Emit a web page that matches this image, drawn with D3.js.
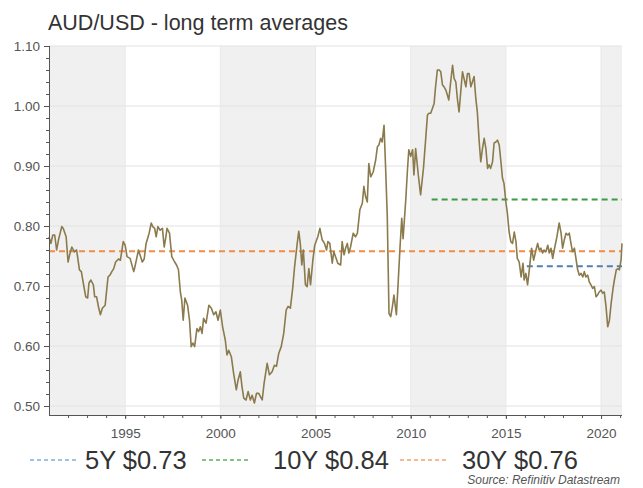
<!DOCTYPE html>
<html>
<head>
<meta charset="utf-8">
<script src="https://cdn.jsdelivr.net/npm/d3@7"></script>
<style>
  html, body { margin: 0; padding: 0; background: #fff; }
  svg { display: block; font-family: "Liberation Sans", Arial, sans-serif; }
</style>
</head>
<body>
<svg id="chart" width="643" height="488"></svg>
<script>
// AUD/USD monthly-ish observations (decimal year, rate)
const dates = [
  1991.00,1991.10,1991.20,1991.30,1991.40,1991.50,1991.67,1991.75,1991.90,
  1992.00,1992.10,1992.20,1992.33,1992.45,1992.60,1992.70,1992.80,1992.93,
  1993.03,1993.10,1993.20,1993.33,1993.40,1993.50,1993.60,1993.70,1993.80,1993.95,
  1994.10,1994.20,1994.30,1994.40,1994.50,1994.65,1994.75,1994.90,
  1995.00,1995.10,1995.26,1995.45,1995.50,1995.70,1995.90,
  1996.00,1996.10,1996.26,1996.37,1996.45,1996.55,1996.63,1996.72,1996.84,1996.96,
  1997.05,1997.14,1997.20,1997.33,1997.45,1997.60,1997.70,1997.80,1997.90,1997.97,
  1998.05,1998.14,1998.28,1998.38,1998.47,1998.56,1998.65,1998.77,1998.86,1998.95,
  1999.04,1999.12,1999.25,1999.40,1999.53,1999.65,1999.77,1999.88,
  2000.00,2000.12,2000.26,2000.35,2000.44,2000.58,2000.70,2000.84,2000.93,
  2001.05,2001.14,2001.23,2001.35,2001.46,2001.58,2001.67,2001.79,2001.90,
  2002.02,2002.10,2002.20,2002.30,2002.46,2002.58,2002.72,2002.84,2002.95,
  2003.07,2003.20,2003.33,2003.46,2003.56,2003.68,2003.80,2003.90,
  2004.04,2004.12,2004.20,2004.28,2004.36,2004.47,2004.56,2004.65,2004.74,2004.86,2004.96,
  2005.12,2005.23,2005.35,2005.47,2005.58,2005.65,2005.75,2005.88,2005.96,
  2006.05,2006.17,2006.32,2006.40,2006.50,2006.58,2006.67,2006.75,2006.84,2006.98,
  2007.10,2007.20,2007.33,2007.46,2007.54,2007.63,2007.72,2007.80,2007.90,
  2008.03,2008.16,2008.25,2008.33,2008.42,2008.50,2008.60,2008.68,2008.77,2008.86,2008.95,
  2009.04,2009.12,2009.25,2009.33,2009.44,2009.53,2009.60,2009.74,2009.82,2009.90,
  2010.00,2010.10,2010.17,2010.26,2010.40,2010.52,2010.67,2010.79,2010.88,2010.96,
  2011.05,2011.14,2011.23,2011.30,2011.40,2011.50,2011.58,2011.67,2011.75,2011.84,2011.93,
  2012.00,2012.10,2012.20,2012.28,2012.37,2012.46,2012.54,2012.63,2012.72,2012.80,2012.90,2012.98,
  2013.07,2013.16,2013.24,2013.33,2013.42,2013.50,2013.60,2013.68,2013.77,2013.86,2013.95,
  2014.04,2014.12,2014.20,2014.30,2014.38,2014.47,2014.56,2014.65,2014.74,2014.82,2014.90,
  2015.00,2015.08,2015.17,2015.26,2015.35,2015.44,2015.53,2015.60,2015.70,2015.80,2015.90,2015.96,
  2016.05,2016.14,2016.23,2016.35,2016.46,2016.58,2016.67,2016.75,2016.84,2016.93,
  2017.00,2017.10,2017.20,2017.28,2017.37,2017.46,2017.54,2017.68,2017.80,2017.90,2017.98,
  2018.07,2018.16,2018.25,2018.33,2018.42,2018.50,2018.60,2018.68,2018.77,2018.86,2018.95,
  2019.04,2019.12,2019.20,2019.30,2019.38,2019.47,2019.56,2019.65,2019.74,2019.82,2019.90,
  2020.00,2020.08,2020.17,2020.26,2020.35,2020.44,2020.53,2020.63,2020.70,2020.80,2020.90,2020.96,
  2021.05,2021.10
];
const rates = [
  0.782,0.771,0.785,0.785,0.760,0.777,0.799,0.796,0.782,
  0.740,0.754,0.765,0.757,0.760,0.727,0.724,0.705,0.682,
  0.680,0.705,0.710,0.702,0.682,0.682,0.665,0.652,0.663,0.668,
  0.715,0.718,0.724,0.729,0.740,0.745,0.743,0.774,
  0.768,0.749,0.746,0.724,0.730,0.760,0.740,
  0.745,0.771,0.788,0.805,0.799,0.796,0.782,0.799,0.793,0.796,
  0.765,0.782,0.796,0.788,0.749,0.740,0.735,0.727,0.690,0.677,
  0.643,0.680,0.668,0.643,0.599,0.605,0.599,0.629,0.624,0.632,
  0.621,0.646,0.638,0.668,0.663,0.652,0.657,0.643,
  0.660,0.632,0.610,0.585,0.593,0.582,0.554,0.527,0.543,
  0.557,0.532,0.513,0.510,0.524,0.510,0.518,0.505,0.521,
  0.521,0.516,0.510,0.538,0.571,0.552,0.557,0.568,0.566,
  0.588,0.599,0.621,0.660,0.666,0.663,0.696,0.732,
  0.771,0.791,0.771,0.735,0.760,0.702,0.699,0.729,0.702,0.743,0.768,
  0.782,0.796,0.777,0.771,0.760,0.774,0.771,0.738,0.757,
  0.749,0.738,0.735,0.774,0.752,0.763,0.771,0.755,0.765,0.788,
  0.782,0.788,0.827,0.838,0.866,0.849,0.840,0.904,0.882,
  0.890,0.910,0.932,0.935,0.946,0.940,0.968,0.899,0.816,0.654,0.649,
  0.666,0.685,0.652,0.699,0.765,0.813,0.779,0.843,0.888,0.927,
  0.916,0.927,0.885,0.929,0.885,0.852,0.896,0.946,0.985,0.988,
  0.988,0.996,1.004,1.030,1.060,1.060,1.057,1.035,1.032,1.027,1.018,
  1.010,1.040,1.068,1.046,1.040,1.010,0.990,1.024,1.057,1.046,1.032,1.054,
  1.054,1.032,1.040,1.049,1.013,0.990,0.940,0.907,0.929,0.946,0.929,
  0.896,0.902,0.896,0.907,0.938,0.940,0.943,0.935,0.907,0.880,0.871,
  0.840,0.821,0.790,0.774,0.771,0.790,0.774,0.746,0.740,0.715,0.738,0.710,
  0.721,0.702,0.727,0.763,0.743,0.760,0.771,0.760,0.763,0.755,
  0.760,0.757,0.768,0.755,0.763,0.746,0.760,0.782,0.805,0.788,0.763,
  0.777,0.788,0.785,0.788,0.771,0.757,0.763,0.746,0.727,0.718,0.721,
  0.715,0.724,0.715,0.718,0.707,0.702,0.696,0.699,0.682,0.685,0.690,
  0.693,0.688,0.690,0.666,0.632,0.643,0.671,0.696,0.710,0.727,0.729,0.727,
  0.743,0.771
];

// Long-term averages
const avgLabels = ["5Y $0.73", "10Y $0.84", "30Y $0.76"];
const avgValues = [0.733, 0.844, 0.758];
const avgStarts = [2016.1, 2011.1, 1991.0];
const avgColors = ["#4f7fb3", "#3f9a45", "#f28c46"];
const legendColors = ["#7ab0dc", "#5cb35f", "#f7a26a"];

const yTicks = [0.50, 0.60, 0.70, 0.80, 0.90, 1.00, 1.10];
const xTicks = [1995, 2000, 2005, 2010, 2015, 2020];

const svg = d3.select("#chart");
const plotL = 49, plotR = 622, plotT = 46, plotB = 415;

const x = d3.scaleLinear().domain([1991.0, 2021.1]).range([plotL, plotR]);
const y = d3.scaleLinear().domain([0.485, 1.10]).range([plotB, plotT]);

// Alternating 5-year shaded bands
const bands = [1990, 2000, 2010, 2020];
svg.append("g").selectAll("rect").data(bands).join("rect")
  .attr("x", d => x(Math.max(d, 1991.0)))
  .attr("width", d => x(Math.min(d + 5, 2021.1)) - x(Math.max(d, 1991.0)))
  .attr("y", plotT)
  .attr("height", plotB - plotT)
  .attr("fill", "#f0f0f0");

// Horizontal gridlines
svg.append("g").selectAll("line").data(yTicks).join("line")
  .attr("x1", plotL).attr("x2", plotR)
  .attr("y1", d => y(d)).attr("y2", d => y(d))
  .attr("stroke", "#e2e2e2").attr("stroke-width", 1);

// Vertical gridlines
svg.append("g").selectAll("line").data(xTicks).join("line")
  .attr("x1", d => x(d)).attr("x2", d => x(d))
  .attr("y1", plotT).attr("y2", plotB)
  .attr("stroke", "#e8e8e8").attr("stroke-width", 1);

// Average reference lines
avgValues.forEach((v, i) => {
  svg.append("line")
    .attr("x1", x(avgStarts[i])).attr("x2", x(2021.1))
    .attr("y1", y(v)).attr("y2", y(v))
    .attr("stroke", avgColors[i]).attr("stroke-width", 2)
    .attr("stroke-dasharray", "6,4");
});

// Exchange-rate line
const series = dates.map((d, i) => [d, rates[i]]);
svg.append("path")
  .datum(series)
  .attr("fill", "none")
  .attr("stroke", "#8a7a4c")
  .attr("stroke-width", 1.6)
  .attr("stroke-linejoin", "round")
  .attr("d", d3.line().x(d => x(d[0])).y(d => y(d[1])));

// Axes
const axisColor = "#555";
const yAxis = svg.append("g").attr("transform", `translate(${plotL},0)`)
  .call(d3.axisLeft(y).tickValues(yTicks).tickFormat(d3.format(".2f")).tickSize(5).tickPadding(4));
const yMinor = svg.append("g").attr("transform", `translate(${plotL},0)`)
  .call(d3.axisLeft(y).tickValues(d3.range(0.50, 1.101, 0.02)).tickFormat("").tickSize(3));
yMinor.select(".domain").remove();

const xAxis = svg.append("g").attr("transform", `translate(0,${plotB})`)
  .call(d3.axisBottom(x).tickValues(xTicks).tickFormat(d3.format("d")).tickSize(4).tickPadding(9));
const xMinor = svg.append("g").attr("transform", `translate(0,${plotB})`)
  .call(d3.axisBottom(x).tickValues(d3.range(1992, 2022, 1)).tickFormat("").tickSize(3));
xMinor.select(".domain").remove();

[yAxis, yMinor, xAxis, xMinor].forEach(g => {
  g.selectAll(".domain").attr("stroke", axisColor);
  g.selectAll("line").attr("stroke", axisColor);
  g.selectAll("text").attr("fill", "#555").style("font-size", "13.5px")
    .style("font-family", "'Liberation Sans', Arial, sans-serif");
});
yAxis.select(".domain").attr("d", `M0.5,${plotT}V${plotB}`);
xAxis.select(".domain").attr("d", `M${plotL},0.5H${plotR}`);

// Title
svg.append("text")
  .attr("x", 48).attr("y", 30)
  .attr("fill", "#333")
  .style("font-size", "21.5px")
  .text("AUD/USD - long term averages");

// Legend
const legendLineX = [30, 202, 400];
const legendTextX = [85, 273, 462];
const legendY = 460;
avgLabels.forEach((lab, i) => {
  svg.append("line")
    .attr("x1", legendLineX[i]).attr("x2", legendLineX[i] + 46)
    .attr("y1", legendY).attr("y2", legendY)
    .attr("stroke", legendColors[i]).attr("stroke-width", 1.6)
    .attr("stroke-dasharray", "4,3");
  svg.append("text")
    .attr("x", legendTextX[i]).attr("y", legendY + 9)
    .attr("fill", "#333")
    .style("font-size", "25.5px")
    .text(lab);
});

// Source note
svg.append("text")
  .attr("x", 620).attr("y", 484)
  .attr("text-anchor", "end")
  .attr("fill", "#555")
  .style("font-size", "12px")
  .style("font-style", "italic")
  .text("Source: Refinitiv Datastream");
</script>
</body>
</html>
